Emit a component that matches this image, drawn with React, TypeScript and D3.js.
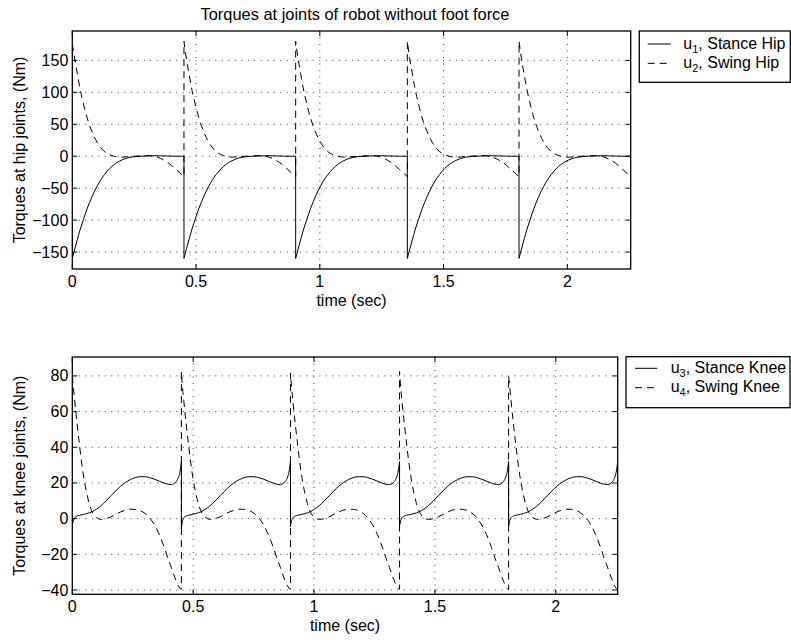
import React from "react";
import * as d3 from "d3";

// ---- data ----
const title = "Torques at joints of robot without foot force";
const timeTicks = [0, 0.5, 1, 1.5, 2];
const hipTicks = [-150, -100, -50, 0, 50, 100, 150];
const kneeTicks = [-40, -20, 0, 20, 40, 60, 80];

// start time of each step (s)
const cycleStarts = [0, 0.4512, 0.9024, 1.3536, 1.8048];

// hip joints: local time within one step
const hipT = [0, 0.01, 0.02, 0.03, 0.045, 0.06, 0.08, 0.1, 0.12, 0.14, 0.16, 0.18, 0.2, 0.22, 0.25, 0.28, 0.31, 0.34, 0.37, 0.4, 0.42, 0.44, 0.4512];
const u1StanceHip = [-160, -145, -131, -117, -99, -82, -63, -47, -34, -24, -16, -10, -6, -3, -0.8, 0, 0.5, 0.8, 0.5, 0.2, 0, 0, 0];
const u2SwingHip = [178, 152, 130, 108, 82, 60, 38, 22, 11, 4.5, 1, -1, -1.5, -1, 0, 0.5, 1, -1, -6, -14, -21, -28, -32];
const u2Peaks = [176, 180, 180, 180, 180];

// knee joints: local time within one step
const kneeT = [0, 0.005, 0.01, 0.02, 0.03, 0.04, 0.05, 0.06, 0.07, 0.08, 0.09, 0.1, 0.12, 0.14, 0.16, 0.18, 0.2, 0.22, 0.24, 0.26, 0.28, 0.3, 0.32, 0.34, 0.36, 0.38, 0.4, 0.41, 0.42, 0.43, 0.44, 0.445, 0.449, 0.4512];
const u3StanceKnee = [-4, -1, 0.5, 1.5, 1.9, 2.2, 2.5, 2.8, 3.3, 3.8, 4.5, 5.3, 7.4, 10, 12.8, 15.6, 18.2, 20.3, 21.9, 23, 23.5, 23.5, 23.0, 22.1, 21.0, 19.9, 19.2, 19.1, 19.6, 20.8, 23.5, 26, 29.5, 32];
const u3Starts = [-3, -5.4, -4.5, -4, -4];
const u4SwingKnee = [81, 73, 66, 53, 41, 30, 21, 14, 8.5, 4.5, 2, 0.6, -0.4, 0, 1, 2.4, 3.8, 4.8, 5.3, 5.2, 4.6, 3, 0.5, -3.5, -9, -16, -24, -27.5, -31.5, -35, -38, -39, -39.5, -39.5];
const u4Peaks = [80, 82.5, 81.5, 82.5, 80];

const FONT = "'Liberation Sans', Arial, Helvetica, sans-serif";

type Pt = { t: number; v: number };

function buildCycles(localT: number[], vals: number[], firstVals?: number[]): Pt[][] {
  return cycleStarts.map((s, i) =>
    localT.map((lt, j) => ({
      t: s + lt,
      v: j === 0 && firstVals ? firstVals[i] : vals[j],
    }))
  );
}

function makePath(cycles: Pt[][], x: d3.ScaleLinear<number, number>, y: d3.ScaleLinear<number, number>) {
  const gen = d3
    .line<Pt>()
    .x((d) => x(d.t))
    .y((d) => y(d.v))
    .curve(d3.curveMonotoneX);
  return cycles
    .map((c, i) => {
      const p = gen(c) || "";
      return i === 0 ? p : "L" + p.slice(1);
    })
    .join("");
}

type PanelProps = {
  id: string;
  L: number;
  T: number;
  R: number;
  B: number;
  yDomain: [number, number];
  yTicks: number[];
  yLabel: string;
  solid: Pt[][];
  dashed: Pt[][];
  legend: { x: number; y: number; w: number; h: number; lineX0: number; lineX1: number; textX: number; rows: number[]; items: [string, string][] };
};

const fmt = (v: number) => (v < 0 ? "\u2212" + Math.abs(v) : String(v));

function Panel(p: PanelProps) {
  const x = d3.scaleLinear().domain([0, 2.256]).range([p.L, p.R]);
  const y = d3.scaleLinear().domain(p.yDomain).range([p.B, p.T]);
  const tick = 5;
  const gridStyle = { stroke: "#000", strokeWidth: 1, strokeDasharray: "1 5.5", opacity: 0.75 };
  return (
    <g fontFamily={FONT} fontSize={16}>
      <defs>
        <clipPath id={p.id}>
          <rect x={p.L} y={p.T} width={p.R - p.L} height={p.B - p.T} />
        </clipPath>
      </defs>
      <rect x={p.L} y={p.T} width={p.R - p.L} height={p.B - p.T} fill="#fff" />
      {/* grid */}
      {timeTicks.filter((t) => t > 0).map((t) => (
        <line key={"gx" + t} x1={x(t)} x2={x(t)} y1={p.T} y2={p.B} {...gridStyle} />
      ))}
      {p.yTicks.map((v) => (
        <line key={"gy" + v} x1={p.L} x2={p.R} y1={y(v)} y2={y(v)} {...gridStyle} />
      ))}
      {/* ticks */}
      {timeTicks.map((t) => (
        <g key={"tx" + t}>
          <line x1={x(t)} x2={x(t)} y1={p.B} y2={p.B - tick} stroke="#000" />
          <line x1={x(t)} x2={x(t)} y1={p.T} y2={p.T + tick} stroke="#000" />
          <text x={x(t)} y={p.B + 18} textAnchor="middle">{fmt(t)}</text>
        </g>
      ))}
      {p.yTicks.map((v) => (
        <g key={"ty" + v}>
          <line x1={p.L} x2={p.L + tick} y1={y(v)} y2={y(v)} stroke="#000" />
          <line x1={p.R} x2={p.R - tick} y1={y(v)} y2={y(v)} stroke="#000" />
          <text x={p.L - 4} y={y(v) + 5.5} textAnchor="end">{fmt(v)}</text>
        </g>
      ))}
      {/* curves */}
      <g clipPath={`url(#${p.id})`}>
        <path d={makePath(p.solid, x, y)} fill="none" stroke="#000" strokeWidth={1} />
        <path d={makePath(p.dashed, x, y)} fill="none" stroke="#000" strokeWidth={1} strokeDasharray="7 5" />
      </g>
      {/* box */}
      <rect x={p.L} y={p.T} width={p.R - p.L} height={p.B - p.T} fill="none" stroke="#000" strokeWidth={1.3} />
      {/* labels */}
      <text x={(p.L + p.R) / 2} y={p.B + 37} textAnchor="middle">time (sec)</text>
      <text
        transform={`translate(25,${(p.T + p.B) / 2}) rotate(-90)`}
        textAnchor="middle"
      >
        {p.yLabel}
      </text>
      {/* legend */}
      <rect x={p.legend.x} y={p.legend.y} width={p.legend.w} height={p.legend.h} fill="#fff" stroke="#000" strokeWidth={1.3} />
      {p.legend.items.map(([sub, name], i) => (
        <g key={"lg" + i}>
          <line
            x1={p.legend.lineX0}
            x2={p.legend.lineX1}
            y1={p.legend.rows[i]}
            y2={p.legend.rows[i]}
            stroke="#000"
            strokeDasharray={i === 1 ? "7 5" : undefined}
          />
          <text x={p.legend.textX} y={p.legend.rows[i] + 4.5}>
            u<tspan fontSize={11} dy={4}>{sub}</tspan>
            <tspan dy={-4}>{", " + name}</tspan>
          </text>
        </g>
      ))}
    </g>
  );
}

export default function App() {
  const hipSolid = buildCycles(hipT, u1StanceHip);
  const hipDashed = buildCycles(hipT, u2SwingHip, u2Peaks);
  const kneeSolid = buildCycles(kneeT, u3StanceKnee, u3Starts);
  const kneeDashed = buildCycles(kneeT, u4SwingKnee, u4Peaks);
  return (
    <svg
      width={791}
      height={640}
      style={{ position: "absolute", left: 0, top: 0, background: "#fff" }}
    >
      <rect x={0} y={0} width={791} height={640} fill="#fff" />
      <text x={355} y={19.5} textAnchor="middle" fontFamily={FONT} fontSize={16.4}>
        {title}
      </text>
      <Panel
        id="clipHip"
        L={72.3}
        T={31}
        R={630.7}
        B={269}
        yDomain={[-176.5, 196]}
        yTicks={hipTicks}
        yLabel="Torques at hip joints, (Nm)"
        solid={hipSolid}
        dashed={hipDashed}
        legend={{
          x: 639.3,
          y: 31,
          w: 151,
          h: 51.3,
          lineX0: 647.7,
          lineX1: 670.7,
          textX: 683.3,
          rows: [44, 63.3],
          items: [
            ["1", "Stance Hip"],
            ["2", "Swing Hip"],
          ],
        }}
      />
      <Panel
        id="clipKnee"
        L={72.3}
        T={357}
        R={617.7}
        B={594.3}
        yDomain={[-42.4, 90.6]}
        yTicks={kneeTicks}
        yLabel="Torques at knee joints, (Nm)"
        solid={kneeSolid}
        dashed={kneeDashed}
        legend={{
          x: 626,
          y: 356.7,
          w: 164,
          h: 51,
          lineX0: 635,
          lineX1: 657.3,
          textX: 670.7,
          rows: [368.3, 387.7],
          items: [
            ["3", "Stance Knee"],
            ["4", "Swing Knee"],
          ],
        }}
      />
    </svg>
  );
}
